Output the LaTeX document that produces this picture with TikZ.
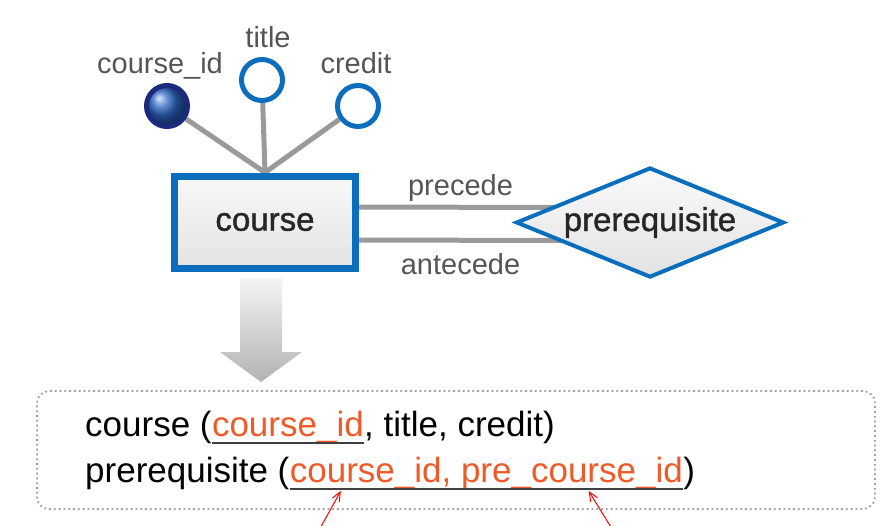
\documentclass[tikz,border=0pt]{standalone}
\usepackage{fontspec}
\setmainfont{Liberation Sans}
\newfontfamily\namefont[FakeBold=1.2]{Liberation Sans}
\usetikzlibrary{shapes.geometric,arrows.meta,calc,positioning}
\pgfdeclarelayer{background}
\pgfsetlayers{background,main}
\definecolor{erblue}{HTML}{0A6EBD}
\definecolor{ernavy}{HTML}{1B2A7C}
\definecolor{keyblue}{HTML}{2A64C4}
\definecolor{linkgray}{HTML}{9A9A9C}
\definecolor{labelgray}{HTML}{555555}
\definecolor{keyred}{HTML}{F05A28}

\begin{document}
\begin{tikzpicture}[x=1pt, y=-1pt,
    entity/.style={draw=erblue, line width=7, top color=gray!5, bottom color=gray!22,
        minimum width=181, minimum height=92, text=black!85,
        font=\namefont\fontsize{33}{35}\selectfont},
    relship/.style={diamond, aspect=2.44, draw=erblue, line width=4, inner sep=0,
        top color=gray!4, bottom color=gray!22, minimum width=268, minimum height=110,
        text=black!85, font=\namefont\fontsize{33}{35}\selectfont},
    attr/.style={circle, draw=erblue, line width=5, fill=white, minimum size=41, inner sep=0},
    keyattr/.style={attr, draw=ernavy, ball color=keyblue},
    lbl/.style={text=labelgray, inner sep=0, text height=21, text depth=0,
        font=\fontsize{29}{30}\selectfont},
    link/.style={draw=linkgray, line width=5},
    rel/.style={inner sep=0, anchor=base west, font=\fontsize{35}{37}\selectfont},
    key/.style={text=keyred},
    uline/.style={draw=black!75, line width=1.6},
    pointer/.style={draw=red, line width=1, -{Straight Barb[length=9, width=8]}}]
    \useasboundingbox (0,0) rectangle (889,525);

    % Entity and its attributes
    \node[entity] (course) at (265,222) {course};
    \node[keyattr, label={[lbl, xshift=-7, label distance=9]above:course\_id}] (cid) at (167,106) {};
    \node[attr, label={[lbl, xshift=6, label distance=9]above:title}] (title) at (262,80) {};
    \node[attr, label={[lbl, xshift=-2, label distance=9]above:credit}] (credit) at (358,106) {};

    % Recursive relationship
    \node[relship] (prereq) at (650,222.5) {prerequisite};

    \begin{pgfonlayer}{background}
        \foreach \a in {cid, title, credit} {
            \draw[link] (\a) -- (course.north);
        }
        \draw[link] ([yshift=15]course.east) -- ([xshift=48, yshift=15]prereq.west)
            node[midway, above=9pt, lbl] (pre) {precede};
        \draw[link] ([yshift=-18]course.east) -- ([xshift=48, yshift=-18]prereq.west)
            node[midway, below=11pt, lbl] (ante) {antecede};
    \end{pgfonlayer}

    % Mapping arrow
    \shade[top color=gray!8, bottom color=gray!60]
        (240,278) -- (282,278) -- (282,352) -- (302,352) -- (261,382)
        -- (220,352) -- (240,352) -- cycle;

    % Relation schema
    \node[draw=gray!75, line width=1.8, dash pattern=on 1.8pt off 3pt, rounded corners=12,
        minimum width=838, minimum height=118] (schema) at (456,450) {};
    \node[rel] (r1a) at (85,436) {course (};
    \node[rel, key] (k1) at (r1a.base east) {course\_id};
    \node[rel] (r1b) at (k1.base east) {, title, credit)};
    \node[rel] (r2a) at (85,482) {prerequisite (};
    \node[rel, key] (k2) at (r2a.base east) {course\_id, pre\_course\_id};
    \node[rel] (r2b) at (k2.base east) {)};
    \draw[uline] ([yshift=-7]k1.base west) -- ([yshift=-7]k1.base east);
    \draw[uline] ([yshift=-7]k2.base west) -- ([yshift=-7]k2.base east);

    % Foreign key pointers
    \coordinate (t1) at ($(k2.base west)!0.13!(k2.base east)$);
    \coordinate (t2) at ($(k2.base west)!0.76!(k2.base east)$);
    \coordinate (f1) at (318,532);
    \coordinate (f2) at (614,532);
    \draw[pointer] (f1) -- ([yshift=-9]t1);
    \draw[pointer] (f2) -- ([yshift=-9]t2);
\end{tikzpicture}
\end{document}
